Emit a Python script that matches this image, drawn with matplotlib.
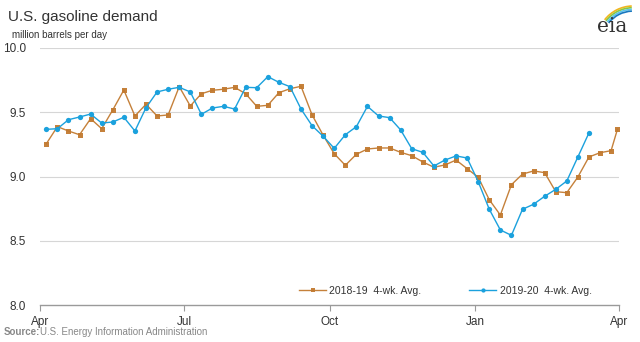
import matplotlib
matplotlib.use("Agg")
import matplotlib.pyplot as plt
import matplotlib.dates as mdates
from matplotlib.patches import Arc
import pandas as pd

plt.rcParams["font.family"] = ["Liberation Sans", "DejaVu Sans"]

# ---- data (million barrels per day, 4-week averages) ----
demand_2018_19 = [9.255, 9.388, 9.354, 9.325, 9.450, 9.372, 9.518, 9.673, 9.471, 9.562,
                  9.471, 9.479, 9.699, 9.549, 9.644, 9.671, 9.679, 9.694, 9.644, 9.546,
                  9.554, 9.652, 9.683, 9.702, 9.479, 9.321, 9.177, 9.087, 9.173, 9.214,
                  9.222, 9.222, 9.188, 9.162, 9.113, 9.072, 9.090, 9.128, 9.061, 8.994,
                  8.819, 8.700, 8.936, 9.019, 9.043, 9.030, 8.882, 8.874, 8.996, 9.152,
                  9.185, 9.201, 9.367]
demand_2019_20 = [9.367, 9.372, 9.442, 9.463, 9.486, 9.416, 9.424, 9.461, 9.354, 9.535,
                  9.658, 9.679, 9.694, 9.658, 9.484, 9.533, 9.546, 9.525, 9.694, 9.691,
                  9.777, 9.733, 9.699, 9.525, 9.395, 9.313, 9.219, 9.325, 9.388, 9.546,
                  9.471, 9.458, 9.362, 9.216, 9.188, 9.082, 9.128, 9.160, 9.144, 8.960,
                  8.745, 8.584, 8.542, 8.745, 8.784, 8.846, 8.900, 8.965, 9.152, 9.339]
first_week = "2019-04-05"
last_2018_19_date = "2020-03-31"
label_2018_19 = "2018-19  4-wk. Avg."
label_2019_20 = "2019-20  4-wk. Avg."
x_ticks = ["2019-04-01", "2019-07-01", "2019-10-01", "2020-01-01", "2020-04-01"]
y_ticks = [8.0, 8.5, 9.0, 9.5, 10.0]

weeks = pd.date_range(first_week, periods=52, freq="7D")
dates_2018_19 = list(weeks[:len(demand_2018_19) - 1]) + [pd.Timestamp(last_2018_19_date)]
dates_2019_20 = list(weeks[:len(demand_2019_20)])

orange = "#C27A30"
blue = "#1BA1DD"

fig = plt.figure(figsize=(6.4, 3.42), dpi=100)
ax = fig.add_axes([40/640, 1 - 305/342, 579/640, 257/342])

ax.plot(dates_2018_19, demand_2018_19, color=orange, lw=1.0, marker="s",
        markersize=3.6, markeredgewidth=0, label=label_2018_19, zorder=3, alpha=0.95)
ax.plot(dates_2019_20, demand_2019_20, color=blue, lw=1.0, marker="o",
        markersize=3.8, markeredgewidth=0, label=label_2019_20, zorder=4)

ax.set_ylim(8.0, 10.0)
ax.set_xlim(pd.Timestamp(x_ticks[0]), pd.Timestamp(x_ticks[-1]))
ax.set_yticks(y_ticks)
ax.set_yticklabels([f"{v:.1f}" for v in y_ticks])
ax.set_xticks([pd.Timestamp(t) for t in x_ticks])
ax.xaxis.set_major_formatter(mdates.DateFormatter("%b"))

for v in y_ticks[1:]:
    ax.axhline(v, color="#D6D6D6", lw=0.8, zorder=1)

for s in ["top", "right", "left"]:
    ax.spines[s].set_visible(False)
ax.spines["bottom"].set_color("#9A9A9A")
ax.spines["bottom"].set_linewidth(1.0)
ax.tick_params(axis="y", length=0, pad=10, labelsize=8.5, labelcolor="#333333")
ax.tick_params(axis="x", length=4, width=0.8, color="#9A9A9A", direction="out",
               pad=4, labelsize=8.5, labelcolor="#333333")

leg = ax.legend(loc="center", bbox_to_anchor=(0.70, 0.055), ncol=2, frameon=False,
                fontsize=7.5, handlelength=2.6, handletextpad=0.3, columnspacing=4.6,
                markerscale=0.8, labelcolor="#333333")

fig.text(8/640, 1 - 17/342, "U.S. gasoline demand", fontsize=11, color="#333333",
         va="center", ha="left")
fig.text(12/640, 1 - 35/342, "million barrels per day", fontsize=7, color="#333333",
         va="center", ha="left")
fig.text(4/640, 1 - 332/342, "Source:", fontsize=7, color="#888888", fontweight="bold",
         va="center", ha="left")
fig.text(40/640, 1 - 332/342, "U.S. Energy Information Administration", fontsize=7,
         color="#888888", va="center", ha="left")

# eia logo
fig.text(612/640, 1 - 26/342, "eia", fontsize=14.5, color="#333333", family="DejaVu Serif",
         va="center", ha="center")
lax = fig.add_axes([0, 0, 1, 1], facecolor="none")
lax.set_xlim(0, 640); lax.set_ylim(0, 342); lax.axis("off")
for i, c in enumerate(["#F2B51C", "#8CC63F", "#5BC3EB", "#1877BE"]):
    r = 36 - i * 1.7
    lax.add_patch(Arc((633, 300), 2 * r, 2 * r, theta1=92, theta2=142,
                      color=c, lw=1.2))

fig.savefig("out.png", dpi=100)
